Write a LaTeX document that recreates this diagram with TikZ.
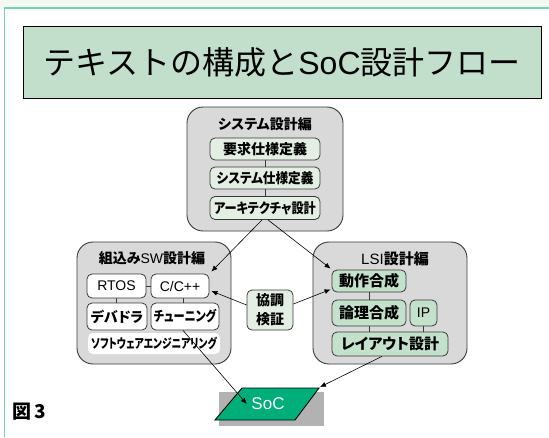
\documentclass[tikz,border=0pt]{standalone}
\usepackage{graphicx}
\usepackage{fontspec}
\setmainfont{Liberation Sans}
\newfontfamily\jpt{Noto Sans CJK JP}
\newfontfamily\jp[RawFeature=+palt]{Noto Sans CJK JP}
\usetikzlibrary{calc,arrows.meta}
\definecolor{framecol}{HTML}{72D5B0}
\definecolor{topstrip}{HTML}{F3F8F3}
\definecolor{titlefill}{HTML}{C2DFCC}
\definecolor{grpfill}{HTML}{D9D9D9}
\definecolor{palegreen}{HTML}{E3EFE3}
\definecolor{midgreen}{HTML}{C3E1CB}
\definecolor{socgreen}{HTML}{00AE7A}
\definecolor{shadowcol}{HTML}{B2B2B2}
\definecolor{edgecol}{HTML}{3A3A3A}
\tikzset{
  grp/.style={draw=edgecol, fill=grpfill, rounded corners=16pt, line width=0.9pt, inner sep=0pt},
  box/.style={draw=edgecol, rounded corners=5pt, line width=0.8pt, inner sep=0pt},
  link/.style={draw=edgecol, line width=0.6pt},
  arr/.style={-{Latex[length=6pt,width=5pt]}, line width=0.6pt, draw=black},
  hd/.style={font=\jp\bfseries\fontsize{14}{16}\selectfont},
  bt/.style={font=\jp\bfseries\fontsize{14}{16}\selectfont},
  lt/.style={font=\fontsize{14}{16}\selectfont}
}
\begin{document}
\begin{tikzpicture}[x=1pt,y=-1pt]
\useasboundingbox (0,0) rectangle (549,437);
\fill[white] (0,0) rectangle (549,437);
\fill[topstrip] (0,0) rectangle (549,7.5);
\draw[framecol, line width=1.5pt] (549,8) -- (4.5,8) -- (4.5,437);

% title
\node[draw=black, fill=titlefill, minimum width=518pt, minimum height=72pt, line width=1pt, inner sep=0pt,
  font=\jpt\fontsize{32}{36}\selectfont] (title) at (282,62) {テキストの構成と{\rmfamily SoC}設計フロー};

% system design group
\node[grp, minimum width=156pt, minimum height=124pt] (g1) at (265,169) {};
\node[hd] (t1) at (265,124) {システム設計編};
\node[box, fill=palegreen, minimum width=110pt, minimum height=22pt, bt] (req) at (265,149) {要求仕様定義};
\node[box, fill=palegreen, minimum width=110pt, minimum height=22pt, bt] (sys) at (265,178) {\scalebox{0.9}[1]{システム仕様定義}};
\node[box, fill=palegreen, minimum width=110pt, minimum height=23pt, bt] (arch) at (265,208) {\scalebox{0.87}[1]{アーキテクチャ設計}};
\draw[link] (req.south) -- (sys.north);
\draw[link] (sys.south) -- (arch.north);

% embedded SW group
\node[grp, minimum width=154pt, minimum height=122pt] (g2) at (154,303) {};
\node[font=\fontsize{14}{16}\selectfont] (t2) at (152,258) {{\jp\bfseries 組込み}SW{\jp\bfseries 設計編}};
\node[box, fill=white, minimum width=59pt, minimum height=24pt, lt] (rtos) at (116.5,286) {RTOS};
\node[box, fill=white, minimum width=58pt, minimum height=24pt, lt] (cpp) at (180,286) {C/C++};
\node[box, fill=white, minimum width=60pt, minimum height=27pt, bt] (devdr) at (117,316.5) {デバドラ};
\node[box, fill=white, minimum width=68pt, minimum height=27pt, bt] (tune) at (185,316.5) {\scalebox{0.8}[1]{チューニング}};
\node[draw=none, fill=white, rounded corners=5pt, minimum width=132pt, minimum height=21pt, inner sep=0pt,
  font=\jp\bfseries\fontsize{13}{15}\selectfont] (swe) at (154,343.5) {\scalebox{0.75}[1]{ソフトウェアエンジニアリング}};
\draw[link] (rtos.east) -- (cpp.west);
\draw[link] (rtos.south) -- (rtos.south |- devdr.north);
\draw[link] ($(cpp.south)+(3,0)$) -- ($(cpp.south |- tune.north)+(3,0)$);

% LSI group
\node[grp, minimum width=154pt, minimum height=122pt] (g3) at (390,303) {};
\node[font=\fontsize{15}{17}\selectfont] (t3) at (395,259) {LSI{\jp\bfseries 設計編}};
\node[box, fill=midgreen, minimum width=74pt, minimum height=22pt, font=\jp\bfseries\fontsize{15}{17}\selectfont] (dosa) at (369,281) {動作合成};
\node[box, fill=midgreen, minimum width=74pt, minimum height=26pt, font=\jp\bfseries\fontsize{15}{17}\selectfont] (ronri) at (369,313) {論理合成};
\node[box, fill=midgreen, minimum width=27pt, minimum height=26pt, lt] (ip) at (423.5,313) {IP};
\node[box, fill=midgreen, minimum width=116pt, minimum height=24pt, font=\jp\bfseries\fontsize{15}{17}\selectfont] (layout) at (390,344) {レイアウト設計};
\draw[link] (dosa.south) -- (ronri.north);
\draw[link] (ronri.south) -- (ronri.south |- layout.north);
\draw[link] (ip.south) -- (ip.south |- layout.north);

% co-verification
\node[box, fill=palegreen, minimum width=46pt, minimum height=40pt, align=center,
  font=\jp\bfseries\fontsize{14}{19}\selectfont] (kyocho) at (270,310) {協調\\検証};

% SoC
\fill[shadowcol] (219,392) rectangle (324,426);
\draw[fill=socgreen, line width=0.9pt] (242,388) -- (319,388) -- (295,420) -- (215,420) -- cycle;
\node[text=white, font=\fontsize{17}{20}\selectfont, minimum width=42pt, inner sep=0pt] (soc) at (268,404) {SoC};
\coordinate (socTR) at (320,387);

% figure label
\node[anchor=west, font=\jp\bfseries\fontsize{19}{22}\selectfont, inner sep=0pt] (fig) at (12,412) {図\,3};

% arrows
\draw[arr] ($(arch.south)+(-3,0)$) -- ($(cpp.north east)+(2,-2)$);
\draw[arr] ($(arch.south)+(3,0)$) -- ($(dosa.north west)+(-1,-1)$);
\draw[arr] ($(kyocho.west)+(0,-5)$) -- ($(cpp.east)+(2,5)$);
\draw[arr] ($(kyocho.east)+(0,-6)$) -- ($(dosa.south west)+(-1,-3)$);
\draw[arr] ($(tune.south)+(-2,0)$) -- (soc.west);
\draw[arr] ($(layout.south)+(-8,0)$) -- (socTR);
\end{tikzpicture}
\end{document}
